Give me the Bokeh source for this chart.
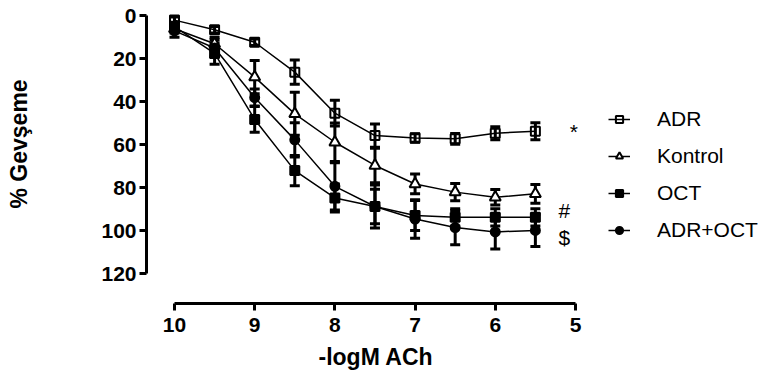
from bokeh.plotting import figure
from bokeh.models import (Range1d, ColumnDataSource, Whisker, TeeHead, Legend,
                          LegendItem, FixedTicker, Title)
from bokeh.embed import file_html
from bokeh.resources import INLINE
from bokeh.core.properties import value

# ---- data ----
conc = [10, 9.5, 9, 8.5, 8, 7.5, 7, 6.5, 6, 5.5]

adr = [2.0, 6.5, 12.3, 26.2, 45.3, 55.7, 56.8, 57.2, 54.6, 53.7]
adr_err = [1.5, 1.5, 1.5, 5.6, 6.0, 5.4, 2.0, 2.5, 3.0, 4.0]

kontrol = [6.0, 13.0, 28.5, 45.6, 58.8, 69.6, 78.2, 82.0, 84.4, 82.8]
kontrol_err = [2.0, 3.0, 7.7, 10.0, 9.0, 8.0, 4.6, 4.0, 3.6, 4.4]

oct_ = [5.0, 17.5, 48.2, 72.0, 84.7, 88.7, 92.9, 93.7, 93.7, 93.7]
oct_err = [2.0, 5.0, 6.0, 7.0, 6.5, 8.0, 7.0, 4.0, 4.0, 4.0]

adr_oct = [7.0, 15.0, 38.0, 57.7, 79.3, 88.7, 94.5, 98.5, 100.5, 99.8]
adr_oct_err = [3.0, 4.0, 4.0, 8.0, 11.0, 10.0, 9.0, 8.0, 8.0, 7.5]

series_names = ["ADR", "Kontrol", "OCT", "ADR+OCT"]
x_ticks = [10, 9, 8, 7, 6, 5]
y_ticks = [0, 20, 40, 60, 80, 100, 120]
x_title = "-logM ACh"
y_title = "% Gevşeme"

sig_marks = ["*", "#", "$"]
sig_x = [5.02, 5.14, 5.14]
sig_y = [54.0, 90.6, 103.0]

FONT = "Liberation Sans"

p = figure(width=762, height=376,
           x_range=Range1d(10.349, 2.668), y_range=Range1d(133.8, -7.12),
           output_backend="svg", toolbar_location=None,
           min_border_left=146, min_border_right=0, min_border_top=0,
           min_border_bottom=73)
p.outline_line_color = None
p.xgrid.visible = False
p.ygrid.visible = False
p.background_fill_color = "white"

for ax in (p.xaxis[0], p.yaxis[0]):
    ax.axis_line_width = 3
    ax.axis_line_color = "black"
    ax.major_tick_line_width = 3
    ax.major_tick_line_color = "black"
    ax.major_tick_out = 7
    ax.major_tick_in = 0
    ax.minor_tick_line_color = None
    ax.major_label_text_font = FONT
    ax.major_label_text_font_style = "bold"
    ax.major_label_text_font_size = "21px"
    ax.major_label_text_color = "black"

p.xaxis.ticker = FixedTicker(ticks=x_ticks)
p.yaxis.ticker = FixedTicker(ticks=y_ticks)
p.xaxis.bounds = (5, 10)
p.yaxis.bounds = (0, 120)
p.xaxis.major_label_standoff = 7
p.yaxis.major_label_standoff = 3

# spacer so that the y title sits at the far left of the figure
p.yaxis.axis_label = " "
p.yaxis.axis_label_text_font_size = "1px"
p.yaxis.axis_label_text_alpha = 0
p.yaxis.axis_label_standoff = 63

# axis titles centred on the axis extent (not on the frame)
p.add_layout(Title(text=x_title, align="left", offset=172, standoff=14,
                   vertical_align="bottom", text_line_height=0.7,
                   text_font=FONT, text_font_style="bold",
                   text_font_size="23px", text_color="black"), "below")
p.add_layout(Title(text=y_title, align="left", offset=95, standoff=0,
                   vertical_align="bottom",
                   text_font=FONT, text_font_style="bold",
                   text_font_size="23px", text_color="black"), "left")

series = [
    (adr, adr_err, dict(marker="square", size=9, fill_color=None)),
    (kontrol, kontrol_err, dict(marker="triangle", size=11, fill_color="white")),
    (oct_, oct_err, dict(marker="square", size=9, fill_color="black")),
    (adr_oct, adr_oct_err, dict(marker="circle", size=9, fill_color="black")),
]

items = []
for name, (ys, errs, mk) in zip(series_names, series):
    src = ColumnDataSource(dict(
        x=conc, y=ys,
        upper=[v + e for v, e in zip(ys, errs)],
        lower=[v - e for v, e in zip(ys, errs)],
    ))
    w = Whisker(base="x", upper="upper", lower="lower", source=src,
                dimension="height", line_width=3, line_color="black",
                upper_head=TeeHead(size=10, line_width=3, line_color="black"),
                lower_head=TeeHead(size=10, line_width=3, line_color="black"))
    p.add_layout(w)
    ln = p.line("x", "y", source=src, line_color="black", line_width=1.5)
    sc = p.scatter("x", "y", source=src, line_color="black", line_width=2, **mk)
    items.append(LegendItem(label=name, renderers=[ln, sc]))

p.text(x=sig_x, y=sig_y, text=sig_marks, text_font=value(FONT),
       text_font_size="21px", text_align="center", text_baseline="middle",
       text_color="black")

legend = Legend(items=items, location=(462, 61), orientation="vertical",
                glyph_width=22, glyph_height=18, label_height=24,
                label_standoff=27, spacing=13, padding=0, margin=0,
                border_line_color=None, background_fill_alpha=0,
                label_text_font=FONT, label_text_font_size="21px",
                label_text_color="black")
p.add_layout(legend)

open("out.html", "w").write(file_html(p, INLINE))
